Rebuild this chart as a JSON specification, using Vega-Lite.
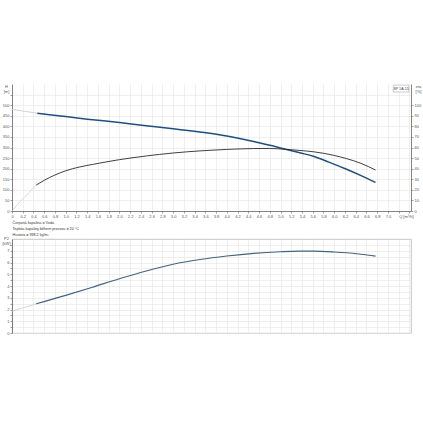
{
  "$schema": "https://vega.github.io/schema/vega-lite/v6.json",
  "padding": {"left": 1, "top": 84, "right": 3, "bottom": 2},
  "background": "white",
  "bounds": "flush",
  "spacing": 28,
  "config": {
    "font": "Liberation Sans",
    "view": {"stroke": null},
    "axis": {
      "labelFontSize": 4, "labelColor": "#555", "titleFontSize": 4, "titleColor": "#555",
      "titleFontWeight": "normal", "gridColor": "#e4e4e4", "gridWidth": 0.6,
      "domainColor": "#666", "domainWidth": 0.8, "tickColor": "#666", "tickSize": 2,
      "tickWidth": 0.6, "labelPadding": 1
    }
  },
  "datasets": {
    "pump": [
      {"Q": 0, "value": 480, "curve": "H", "seg": "ext"},
      {"Q": 0.47, "value": 462, "curve": "H", "seg": "ext"},
      {"Q": 0.47, "value": 462, "curve": "H", "seg": "main"},
      {"Q": 0.7, "value": 455, "curve": "H", "seg": "main"},
      {"Q": 1.0, "value": 446, "curve": "H", "seg": "main"},
      {"Q": 1.4, "value": 434, "curve": "H", "seg": "main"},
      {"Q": 2.0, "value": 418, "curve": "H", "seg": "main"},
      {"Q": 2.5, "value": 403, "curve": "H", "seg": "main"},
      {"Q": 3.0, "value": 389, "curve": "H", "seg": "main"},
      {"Q": 3.5, "value": 373, "curve": "H", "seg": "main"},
      {"Q": 4.0, "value": 354, "curve": "H", "seg": "main"},
      {"Q": 4.5, "value": 328, "curve": "H", "seg": "main"},
      {"Q": 5.0, "value": 298, "curve": "H", "seg": "main"},
      {"Q": 5.36, "value": 275, "curve": "H", "seg": "main"},
      {"Q": 5.61, "value": 259, "curve": "H", "seg": "main"},
      {"Q": 5.9, "value": 231, "curve": "H", "seg": "main"},
      {"Q": 6.23, "value": 197, "curve": "H", "seg": "main"},
      {"Q": 6.5, "value": 167, "curve": "H", "seg": "main"},
      {"Q": 6.77, "value": 135, "curve": "H", "seg": "main"},
      {"Q": 0, "value": 0, "curve": "eta", "seg": "ext"},
      {"Q": 0.1, "value": 6, "curve": "eta", "seg": "ext"},
      {"Q": 0.2, "value": 11.5, "curve": "eta", "seg": "ext"},
      {"Q": 0.3, "value": 16.5, "curve": "eta", "seg": "ext"},
      {"Q": 0.45, "value": 24.5, "curve": "eta", "seg": "ext"},
      {"Q": 0.45, "value": 24.5, "curve": "eta", "seg": "main"},
      {"Q": 0.6, "value": 29, "curve": "eta", "seg": "main"},
      {"Q": 0.8, "value": 34, "curve": "eta", "seg": "main"},
      {"Q": 1.0, "value": 38, "curve": "eta", "seg": "main"},
      {"Q": 1.25, "value": 41.5, "curve": "eta", "seg": "main"},
      {"Q": 1.5, "value": 44, "curve": "eta", "seg": "main"},
      {"Q": 2.0, "value": 48.5, "curve": "eta", "seg": "main"},
      {"Q": 2.5, "value": 52, "curve": "eta", "seg": "main"},
      {"Q": 3.0, "value": 54.8, "curve": "eta", "seg": "main"},
      {"Q": 3.5, "value": 56.8, "curve": "eta", "seg": "main"},
      {"Q": 4.0, "value": 58.2, "curve": "eta", "seg": "main"},
      {"Q": 4.5, "value": 59, "curve": "eta", "seg": "main"},
      {"Q": 4.8, "value": 59.1, "curve": "eta", "seg": "main"},
      {"Q": 5.1, "value": 58.3, "curve": "eta", "seg": "main"},
      {"Q": 5.36, "value": 57.2, "curve": "eta", "seg": "main"},
      {"Q": 5.61, "value": 56, "curve": "eta", "seg": "main"},
      {"Q": 6.0, "value": 52.5, "curve": "eta", "seg": "main"},
      {"Q": 6.23, "value": 49.5, "curve": "eta", "seg": "main"},
      {"Q": 6.5, "value": 45, "curve": "eta", "seg": "main"},
      {"Q": 6.77, "value": 38.7, "curve": "eta", "seg": "main"}
    ],
    "power": [
      {"Q": 0, "P2": 1.85, "seg": "ext"},
      {"Q": 0.45, "P2": 2.48, "seg": "ext"},
      {"Q": 0.45, "P2": 2.48, "seg": "main"},
      {"Q": 1.0, "P2": 3.2, "seg": "main"},
      {"Q": 1.5, "P2": 3.9, "seg": "main"},
      {"Q": 2.0, "P2": 4.62, "seg": "main"},
      {"Q": 2.5, "P2": 5.28, "seg": "main"},
      {"Q": 3.0, "P2": 5.85, "seg": "main"},
      {"Q": 3.5, "P2": 6.25, "seg": "main"},
      {"Q": 4.0, "P2": 6.55, "seg": "main"},
      {"Q": 4.5, "P2": 6.78, "seg": "main"},
      {"Q": 5.0, "P2": 6.92, "seg": "main"},
      {"Q": 5.36, "P2": 6.97, "seg": "main"},
      {"Q": 5.61, "P2": 6.97, "seg": "main"},
      {"Q": 6.0, "P2": 6.9, "seg": "main"},
      {"Q": 6.23, "P2": 6.83, "seg": "main"},
      {"Q": 6.5, "P2": 6.7, "seg": "main"},
      {"Q": 6.77, "P2": 6.54, "seg": "main"}
    ],
    "labelbox": [{"Q": 7.1, "Q2": 7.39, "value": 595, "value2": 562}],
    "labeltext": [{"Q": 7.245, "value": 578.5, "name": "SP 5A-15"}]
  },
  "vconcat": [
    {
      "width": 399,
      "height": 127,
      "encoding": {
        "x": {
          "field": "Q", "type": "quantitative",
          "scale": {"domain": [0, 7.43], "nice": false, "zero": false},
          "axis": {
            "values": [0,0.2,0.4,0.6,0.8,1,1.2,1.4,1.6,1.8,2,2.2,2.4,2.6,2.8,3,3.2,3.4,3.6,3.8,4,4.2,4.4,4.6,4.8,5,5.2,5.4,5.6,5.8,6,6.2,6.4,6.6,6.8,7,7.2,7.4],
            "labelOverlap": false, "labelFlush": false,
            "labelExpr": "datum.value > 7.3 ? '' : datum.value > 7.1 ? 'Q [m³/h]' : datum.value == 0 ? '0' : format(datum.value, '.1f')",
            "labelAlign": {"condition": {"test": "datum.value > 7.1", "value": "left"}, "value": "center"},
            "title": ["Čerpaná kapalina = Voda", "Teplota kapaliny během provozu = 20 °C", "Hustota = 998.2 kg/m³"],
            "titleAnchor": "start", "titleAlign": "left", "titleBaseline": "top",
            "titleX": 0, "titleY": 9.5, "titleLineHeight": 6, "titleFontSize": 3.7, "titleColor": "#333"
          }
        }
      },
      "layer": [
        {
          "encoding": {
            "y": {
              "field": "value", "type": "quantitative",
              "scale": {"domain": [0, 600], "nice": false},
              "axis": {
                "values": [0,50,100,150,200,250,300,350,400,450,500,550],
                "labelOverlap": false,
                "labelExpr": "datum.value > 520 ? '' : datum.label",
                "title": ["H", "[m]"], "titleAngle": 0, "titleAlign": "center", "titleBaseline": "top",
                "titleX": -6, "titleY": 0, "titleLineHeight": 5
              }
            }
          },
          "layer": [
            {
              "data": {"name": "pump"},
              "transform": [{"filter": "datum.curve === 'H'"}],
              "mark": {"type": "line", "interpolate": "monotone"},
              "encoding": {
                "color": {"field": "seg", "type": "nominal", "scale": {"domain": ["ext", "main"], "range": ["#c6c6c6", "#1f4f7e"]}, "legend": null},
                "strokeWidth": {"field": "seg", "type": "nominal", "scale": {"domain": ["ext", "main"], "range": [0.8, 1.5]}, "legend": null}
              }
            },
            {
              "data": {"name": "labelbox"},
              "mark": {"type": "rect", "fill": "white", "stroke": "#aaa", "strokeWidth": 0.6},
              "encoding": {
                "x2": {"field": "Q2"},
                "y2": {"field": "value2"}
              }
            },
            {
              "data": {"name": "labeltext"},
              "mark": {"type": "text", "fontSize": 3.6, "color": "#444"},
              "encoding": {
                "text": {"field": "name"}
              }
            }
          ]
        },
        {
          "data": {"name": "pump"},
          "transform": [{"filter": "datum.curve === 'eta'"}],
          "mark": {"type": "line", "interpolate": "monotone"},
          "encoding": {
            "y": {
              "field": "value", "type": "quantitative",
              "scale": {"domain": [0, 120], "nice": false},
              "axis": {
                "orient": "right", "grid": false, "labelOverlap": false,
                "values": [0,10,20,30,40,50,60,70,80,90,100],
                "title": ["eta", "[%]"], "titleAngle": 0, "titleAlign": "center", "titleBaseline": "top",
                "titleX": 7, "titleY": 0, "titleLineHeight": 5
              }
            },
            "color": {"field": "seg", "type": "nominal", "scale": {"domain": ["ext", "main"], "range": ["#c6c6c6", "#2a2a2a"]}, "legend": null},
            "strokeWidth": {"field": "seg", "type": "nominal", "scale": {"domain": ["ext", "main"], "range": [0.7, 0.9]}, "legend": null}
          }
        }
      ],
      "resolve": {"scale": {"y": "independent", "color": "independent", "strokeWidth": "independent"}}
    },
    {
      "width": 399,
      "height": 94,
      "view": {"stroke": "#b5b5b5", "strokeWidth": 0.8},
      "data": {"name": "power"},
      "mark": {"type": "line", "interpolate": "monotone"},
      "encoding": {
        "x": {
          "field": "Q", "type": "quantitative",
          "scale": {"domain": [0, 7.43], "nice": false, "zero": false},
          "axis": {
            "values": [0,0.2,0.4,0.6,0.8,1,1.2,1.4,1.6,1.8,2,2.2,2.4,2.6,2.8,3,3.2,3.4,3.6,3.8,4,4.2,4.4,4.6,4.8,5,5.2,5.4,5.6,5.8,6,6.2,6.4,6.6,6.8,7,7.2,7.4],
            "labels": false, "ticks": false, "domain": false, "title": null
          }
        },
        "y": {
          "field": "P2", "type": "quantitative",
          "scale": {"domain": [0, 8], "nice": false},
          "axis": {
            "values": [0,0.5,1,1.5,2,2.5,3,3.5,4,4.5,5,5.5,6,6.5,7,7.5],
            "labelOverlap": false,
            "labelExpr": "datum.value % 1 == 0 ? format(datum.value, 'd') : ''",
            "title": ["P2", "[kW]"], "titleAngle": 0, "titleAlign": "center", "titleBaseline": "top",
            "titleX": -6, "titleY": -3, "titleLineHeight": 5
          }
        },
        "color": {"field": "seg", "type": "nominal", "scale": {"domain": ["ext", "main"], "range": ["#c6c6c6", "#41627e"]}, "legend": null},
        "strokeWidth": {"field": "seg", "type": "nominal", "scale": {"domain": ["ext", "main"], "range": [0.7, 1.1]}, "legend": null}
      }
    }
  ]
}
